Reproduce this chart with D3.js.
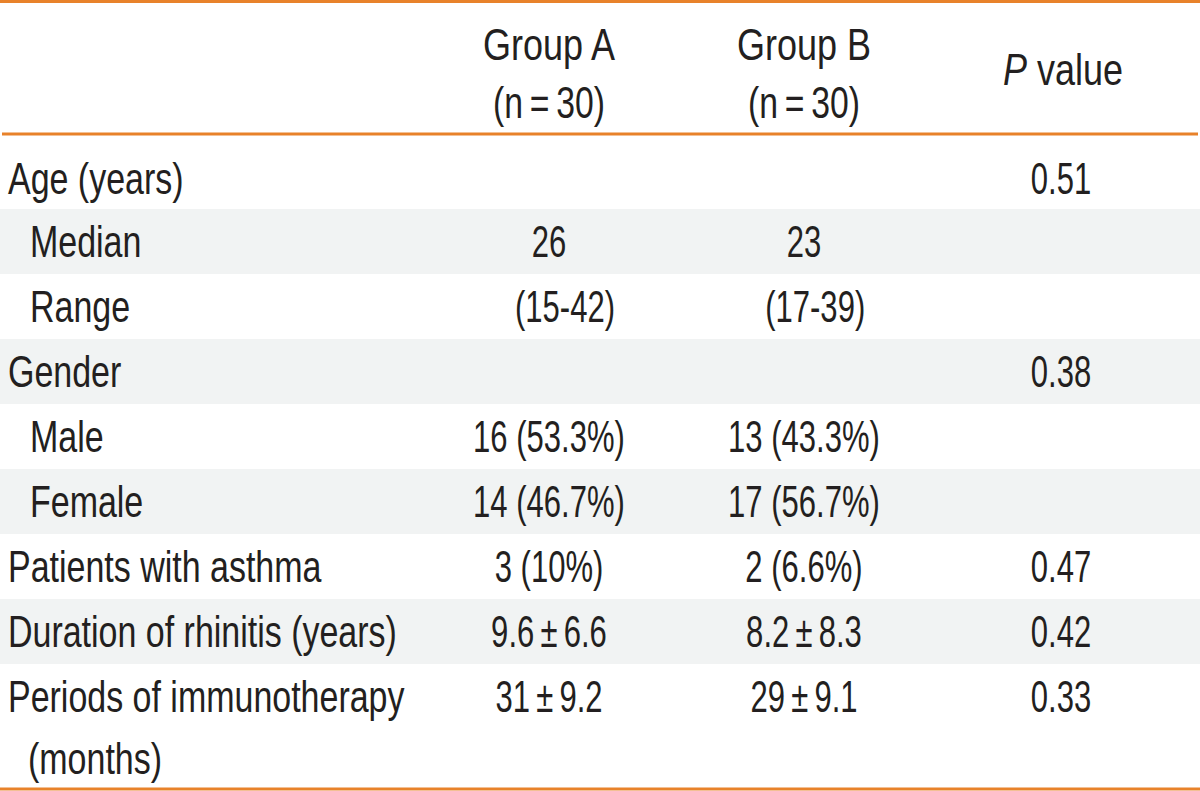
<!DOCTYPE html>
<html><head><meta charset="utf-8">
<script src="https://cdn.jsdelivr.net/npm/d3@7"></script>
<style>
html,body{margin:0;padding:0;background:#fff;}
text{font-family:"Liberation Sans Narrow","Arial Narrow","Liberation Sans",sans-serif;fill:#231f20;}
</style></head>
<body><svg id="c" width="1200" height="791"></svg>
<script>
const headers = [["Group A","(n\u2009=\u200930)"],["Group B","(n\u2009=\u200930)"],["P value"]];
const rowLabels = ["Age (years)","Median","Range","Gender","Male","Female","Patients with asthma","Duration of rhinitis (years)","Periods of immunotherapy"];
const rowIndent = [false,true,true,false,true,true,false,false,false];
const groupA = ["","26","(15-42)","","16 (53.3%)","14 (46.7%)","3 (10%)","9.6\u2009±\u20096.6","31\u2009±\u20099.2"];
const groupB = ["","23","(17-39)","","13 (43.3%)","17 (56.7%)","2 (6.6%)","8.2\u2009±\u20098.3","29\u2009±\u20099.1"];
const pValues = ["0.51","","","0.38","","","0.47","0.42","0.33"];
const rowShaded = [false,true,false,true,false,true,false,true,false];
const extraLine = ["","","","","","","","","(months)"];

const svg = d3.select("#c");
const W = 1200;
const orange = "#e8822a", shade = "#f1f3f3";
const FS = 45;

const y = d3.scaleBand().domain(d3.range(rowLabels.length)).range([144, 729]).padding(0);
const colX = d3.scaleOrdinal().domain(["A","B","P"]).range([549, 804, 1061]);

svg.append("g").selectAll("rect").data(d3.range(rowLabels.length).filter(i=>rowShaded[i]))
  .join("rect").attr("x",0).attr("width",W).attr("y",i=>y(i)).attr("height",y.bandwidth()).attr("fill",shade);

function txt(g, s, x, yy, anchor, sx, italicFirst){
  const t = g.append("text").attr("transform",`translate(${x},${yy}) scale(${sx},1)`)
    .attr("font-size",FS).attr("text-anchor",anchor).attr("dominant-baseline","central");
  if(italicFirst){
    t.append("tspan").attr("font-style","italic").text("P");
    t.append("tspan").text(" value");
  } else t.text(s);
  return t;
}
const g = svg.append("g");
headers.forEach((h,i)=>{
  const key = ["A","B","P"][i];
  if(h.length===2){
    txt(g,h[0],colX(key),45,"middle",0.80);
    txt(g,h[1],colX(key),102,"middle",0.75);
  } else {
    txt(g,h[0],colX(key)+2,70,"middle",0.80,true);
  }
});
const rangeDx = [0,0,16,0,0,0,0,0,0];
const LS = 0.755, NS = 0.69;
rowLabels.forEach((r,i)=>{
  const cy = y(i)+y.bandwidth()/2 + (i===0?2:0);
  txt(g,r,rowIndent[i]?30:8,cy,"start",LS);
  if(groupA[i]) txt(g,groupA[i],colX("A")+rangeDx[i],cy,"middle",NS);
  if(groupB[i]) txt(g,groupB[i],colX("B")+rangeDx[i]*0.7,cy,"middle",NS);
  if(pValues[i]) txt(g,pValues[i],colX("P"),cy,"middle",NS);
  if(extraLine[i]) txt(g,extraLine[i],28,cy+62,"start",LS);
});

svg.append("line").attr("x1",0).attr("x2",W).attr("y1",1.5).attr("y2",1.5).attr("stroke",orange).attr("stroke-width",3);
svg.append("line").attr("x1",2).attr("x2",W-2).attr("y1",134).attr("y2",134).attr("stroke",orange).attr("stroke-width",3);
svg.append("line").attr("x1",0).attr("x2",W).attr("y1",789).attr("y2",789).attr("stroke",orange).attr("stroke-width",3);
</script></body></html>
